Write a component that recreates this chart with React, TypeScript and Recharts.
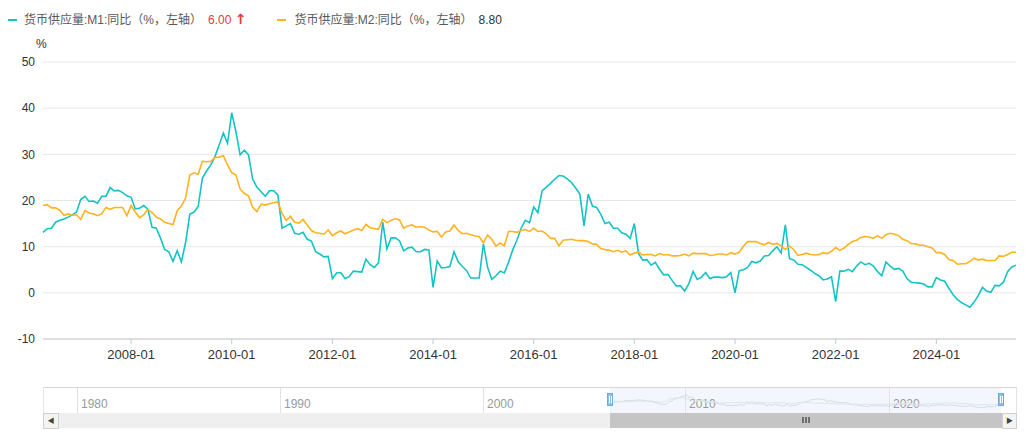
import React from "react";
import { CartesianGrid, Line, LineChart, XAxis, YAxis } from "recharts";

// monthly, 2006-04 .. 2025-08
const firstYear = 2006;
const firstMonth = 4;

// 货币供应量:M1:同比 (%)
const m1 = [
  13.1, 13.9, 14.0, 15.3, 15.7, 16.0, 16.4, 16.9, 17.5, // 2006
  20.2, 20.9, 19.8, 19.9, 19.4, 20.9, 20.9, 22.8, 22.1, 22.2, 21.7, 21.0, // 2007
  20.7, 18.2, 18.3, 18.9, 18.1, 14.2, 14.0, 11.9, 9.4, 8.9, 6.8, 9.1, // 2008
  6.7, 10.9, 17.0, 17.5, 18.7, 24.8, 26.4, 27.7, 29.5, 32.0, 34.6, 32.4, // 2009
  39.0, 34.9, 29.9, 30.9, 29.9, 24.6, 22.9, 21.9, 20.9, 22.1, 22.1, 21.2, // 2010
  14.0, 14.5, 15.0, 12.9, 12.7, 13.1, 11.6, 11.2, 8.9, 8.4, 7.8, 7.9, // 2011
  3.1, 4.3, 4.4, 3.1, 3.5, 4.7, 4.6, 4.5, 7.3, 6.1, 5.5, 6.5, // 2012
  15.3, 9.5, 11.9, 11.9, 11.3, 9.1, 9.7, 9.9, 8.9, 8.9, 9.4, 9.3, // 2013
  1.2, 6.9, 5.4, 5.5, 5.7, 8.9, 6.7, 5.7, 4.8, 3.2, 3.2, 3.2, // 2014
  10.6, 5.6, 2.9, 3.7, 4.7, 4.3, 6.6, 9.3, 11.4, 14.0, 15.7, 15.2, // 2015
  18.6, 17.4, 22.1, 22.9, 23.7, 24.6, 25.4, 25.3, 24.7, 23.9, 22.7, 21.4, // 2016
  14.5, 21.4, 18.8, 18.5, 17.0, 15.0, 15.3, 14.0, 14.0, 13.0, 12.7, 11.8, // 2017
  15.0, 8.5, 7.1, 7.2, 6.0, 6.6, 5.1, 3.9, 4.0, 2.7, 1.5, 1.5, // 2018
  0.4, 2.0, 4.6, 2.9, 3.4, 4.4, 3.1, 3.4, 3.4, 3.3, 3.5, 4.4, // 2019
  0.0, 4.8, 5.0, 5.5, 6.8, 6.5, 6.9, 8.0, 8.1, 9.1, 10.0, 8.6, // 2020
  14.7, 7.4, 7.1, 6.2, 6.1, 5.5, 4.9, 4.2, 3.7, 2.8, 3.0, 3.5, // 2021
  -1.9, 4.7, 4.7, 5.1, 4.6, 5.8, 6.7, 6.1, 6.4, 5.8, 4.6, 3.7, // 2022
  6.7, 5.8, 5.1, 5.3, 4.7, 3.1, 2.3, 2.2, 2.1, 1.9, 1.3, 1.3, // 2023
  3.3, 2.8, 2.5, 1.0, -0.4, -1.4, -2.1, -2.6, -3.1, -2.0, -0.6, 1.2, // 2024
  0.4, 0.1, 1.6, 1.5, 2.3, 4.6, 5.6, 6.0, // 2025
];

// 货币供应量:M2:同比 (%)
const m2 = [
  18.9, 19.1, 18.4, 18.4, 17.9, 16.8, 17.1, 16.8, 16.9, // 2006
  15.9, 17.8, 17.3, 17.1, 16.7, 17.1, 18.5, 18.1, 18.5, 18.5, 18.5, 16.7, // 2007
  18.9, 17.5, 16.3, 16.9, 18.1, 17.4, 16.4, 16.0, 15.3, 15.0, 14.8, 17.8, // 2008
  18.8, 20.5, 25.5, 26.0, 25.7, 28.5, 28.4, 28.5, 29.3, 29.4, 29.7, 27.7, // 2009
  26.0, 25.5, 22.5, 21.5, 21.0, 18.5, 17.6, 19.2, 19.0, 19.3, 19.5, 19.7, // 2010
  17.2, 15.7, 16.6, 15.3, 15.1, 15.9, 14.7, 13.5, 13.0, 12.9, 12.7, 13.6, // 2011
  12.4, 13.0, 13.4, 12.8, 13.2, 13.6, 13.9, 13.5, 14.8, 14.1, 13.9, 13.8, // 2012
  15.9, 15.2, 15.7, 16.1, 15.8, 14.0, 14.5, 14.7, 14.2, 14.3, 14.2, 13.6, // 2013
  13.2, 13.3, 12.1, 13.2, 13.4, 14.7, 13.5, 12.8, 12.9, 12.6, 12.3, 12.2, // 2014
  10.8, 12.5, 11.6, 10.1, 10.8, 10.2, 13.3, 13.3, 13.1, 13.5, 13.7, 13.3, // 2015
  14.0, 13.3, 13.4, 12.8, 11.8, 11.8, 10.2, 11.4, 11.5, 11.6, 11.4, 11.3, // 2016
  11.3, 11.1, 10.6, 10.5, 9.6, 9.4, 9.2, 8.9, 9.2, 8.8, 9.1, 8.2, // 2017
  8.6, 8.8, 8.2, 8.3, 8.3, 8.0, 8.5, 8.2, 8.3, 8.0, 8.0, 8.1, // 2018
  8.4, 8.0, 8.6, 8.5, 8.5, 8.5, 8.1, 8.2, 8.4, 8.4, 8.2, 8.7, // 2019
  8.4, 8.8, 10.1, 11.1, 11.1, 11.1, 10.7, 10.4, 10.9, 10.5, 10.7, 10.1, // 2020
  9.4, 10.1, 9.4, 8.1, 8.3, 8.6, 8.3, 8.2, 8.3, 8.7, 8.5, 9.0, // 2021
  9.8, 9.2, 9.7, 10.5, 11.1, 11.4, 12.0, 12.2, 12.1, 11.8, 12.4, 11.8, // 2022
  12.6, 12.9, 12.7, 12.4, 11.6, 11.3, 10.7, 10.6, 10.3, 10.3, 10.0, 9.7, // 2023
  8.7, 8.7, 8.3, 7.2, 7.0, 6.2, 6.3, 6.3, 6.8, 7.5, 7.1, 7.3, // 2024
  7.0, 7.0, 7.0, 8.0, 7.9, 8.3, 8.8, 8.8, // 2025
];

const xTicks = ["2008-01", "2010-01", "2012-01", "2014-01", "2016-01", "2018-01", "2020-01", "2022-01", "2024-01"];
const yTicks = [-10, 0, 10, 20, 30, 40, 50];
const sliderYears = ["1980", "1990", "2000", "2010", "2020"];
const sliderYearX = [77, 280, 483, 685, 889];

const monthLabel = (i: number) => {
  const m = firstMonth - 1 + i;
  const y = firstYear + Math.floor(m / 12);
  const mm = (m % 12) + 1;
  return `${y}-${mm < 10 ? "0" + mm : mm}`;
};

const rows = m1.map((v, i) => ({ date: monthLabel(i), m1: v, m2: m2[i] }));

const C1 = "#14c3c6";
const C2 = "#ffb321";
const FONT = "'Liberation Sans', Arial, 'Noto Sans CJK SC', sans-serif";

function LegendBar() {
  const txt = { color: "#595959", fontSize: 12 };
  const swatch = (c: string) => ({ display: "inline-block", width: 9, height: 2, background: c, verticalAlign: "middle" });
  return (
    <div style={{ position: "absolute", left: 8, top: 11, fontFamily: FONT, whiteSpace: "nowrap", lineHeight: "16px" }}>
      <span style={swatch(C1)} />
      <span style={{ ...txt, marginLeft: 7 }}>货币供应量:M1:同比（%，左轴）</span>
      <span style={{ color: "#f0353d", fontSize: 12, marginLeft: 6 }}>
        6.00 <span style={{ fontWeight: "bold", fontSize: 14, fontFamily: "'DejaVu Sans', sans-serif" }}>↑</span>
      </span>
      <span style={{ ...swatch(C2), marginLeft: 31 }} />
      <span style={{ ...txt, marginLeft: 8 }}>货币供应量:M2:同比（%，左轴）</span>
      <span style={{ color: "#333", fontSize: 12, marginLeft: 6 }}>8.80</span>
    </div>
  );
}

function Slider() {
  return (
    <div style={{ position: "absolute", left: 0, top: 0, fontFamily: FONT }}>
      <div style={{ position: "absolute", left: 43, top: 387, width: 972, height: 26, borderTop: "1px solid #d8d8d8", borderLeft: "1px solid #e4e4e4", borderRight: "1px solid #e4e4e4", background: "#fff" }} />
      <div style={{ position: "absolute", left: 610, top: 388, width: 391, height: 25, background: "#f3f7fd" }} />
      {sliderYears.map((y, i) => (
        <React.Fragment key={y}>
          <div style={{ position: "absolute", left: sliderYearX[i], top: 388, width: 1, height: 25, background: "#e2e2e2" }} />
          <div style={{ position: "absolute", left: sliderYearX[i] + 4, top: 397, fontSize: 12, color: "#9a9a9a" }}>{y}</div>
        </React.Fragment>
      ))}
      <div style={{ position: "absolute", left: 610, top: 387 }}>
        <LineChart width={391} height={26} data={rows} margin={{ top: 0, right: 0, bottom: 0, left: 0 }}>
          <XAxis dataKey="date" hide />
          <YAxis hide domain={[-20, 64]} />
          <Line dataKey="m1" stroke="#d3dbe7" strokeWidth={1} dot={false} isAnimationActive={false} />
          <Line dataKey="m2" stroke="#dfe4ec" strokeWidth={1} dot={false} isAnimationActive={false} />
        </LineChart>
      </div>
      {[607, 998].map((x) => (
        <div key={x} style={{ position: "absolute", left: x, top: 393, width: 6, height: 13, background: "#8ec0ec", border: "1px solid #6ea9df", boxSizing: "border-box" }}>
          <div style={{ position: "absolute", left: 1, top: 2, width: 1, height: 7, background: "#fff" }} />
          <div style={{ position: "absolute", left: 3, top: 2, width: 1, height: 7, background: "#fff" }} />
        </div>
      ))}
      <div style={{ position: "absolute", left: 43, top: 413, width: 973, height: 15, background: "#efefef" }} />
      <div style={{ position: "absolute", left: 43, top: 413, width: 14, height: 14, border: "1px solid #d0d0d0", background: "#f4f4f4", fontSize: 7, color: "#444", textAlign: "center", lineHeight: "14px" }}>◀</div>
      <div style={{ position: "absolute", left: 610, top: 413, width: 392, height: 15, background: "#c5c5c5" }}>
        {[0, 3, 6].map((dx) => (
          <div key={dx} style={{ position: "absolute", left: 192 + dx, top: 4, width: 2, height: 6, background: "#707070" }} />
        ))}
      </div>
      <div style={{ position: "absolute", left: 1002, top: 413, width: 13, height: 14, border: "1px solid #d0d0d0", background: "#f4f4f4", fontSize: 7, color: "#444", textAlign: "center", lineHeight: "14px" }}>▶</div>
    </div>
  );
}

export default function App() {
  return (
    <div style={{ position: "absolute", left: 0, top: 0, width: 1025, height: 438, background: "#fff", fontFamily: FONT }}>
      <LegendBar />
      <div style={{ position: "absolute", left: 36, top: 37, fontSize: 12, color: "#333" }}>%</div>
      <LineChart width={1025} height={380} data={rows} margin={{ top: 62, right: 9, bottom: 11, left: 0 }}>
        <CartesianGrid vertical={false} stroke="#e6e6e6" />
        <XAxis
          dataKey="date"
          ticks={xTicks}
          interval={0}
          height={30}
          tickSize={5}
          tickMargin={6}
          axisLine={{ stroke: "#c8c8c8" }}
          tickLine={{ stroke: "#b8c8e4" }}
          tick={{ fill: "#333", fontSize: 13, fontFamily: FONT }}
        />
        <YAxis
          domain={[-10, 50]}
          ticks={yTicks}
          width={43}
          axisLine={false}
          tickLine={false}
          tickSize={0}
          tickMargin={8}
          tick={{ fill: "#333", fontSize: 12, fontFamily: FONT }}
        />
        <Line type="linear" dataKey="m1" stroke={C1} strokeWidth={1.6} dot={false} isAnimationActive={false} />
        <Line type="linear" dataKey="m2" stroke={C2} strokeWidth={1.6} dot={false} isAnimationActive={false} />
      </LineChart>
      <Slider />
    </div>
  );
}
